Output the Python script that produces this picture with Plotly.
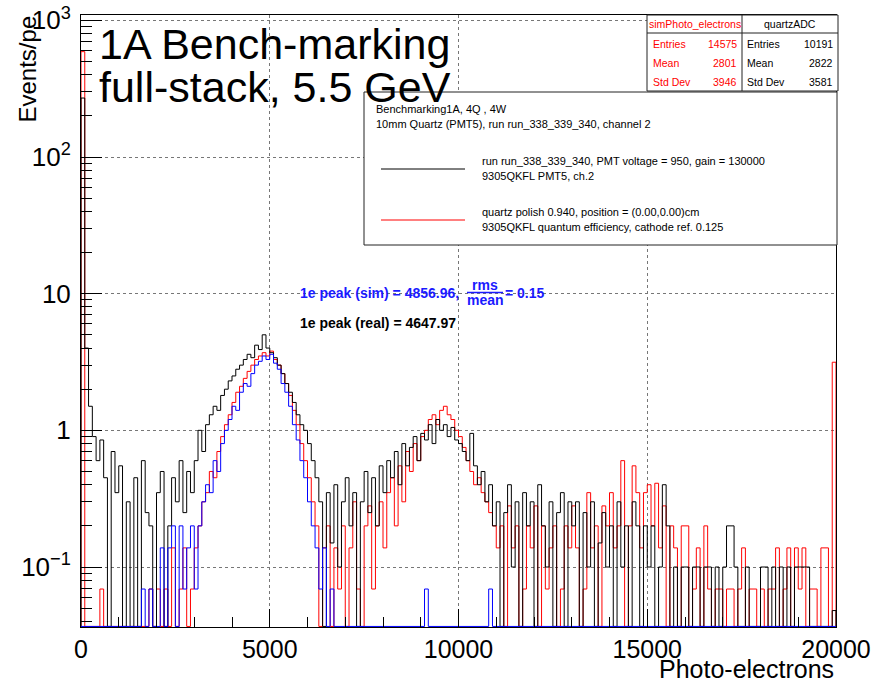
import plotly.graph_objects as go

# Histogram binning (photo-electrons)
BIN_WIDTH = 100
X_MIN, X_MAX = 0, 20000

# Measured quartzADC spectrum converted to photo-electrons (Events/pe per bin)
real_pe = [
    270, 4.0, 1.5, 0.9, 0.6, 0.85, 0.45, 0, 0.7, 0.35,
    0.55, 0, 0.3, 0, 0.45, 0, 0.6, 0.25, 0.2, 0,
    0.35, 0.5, 0, 0.2, 0.45, 0.3, 0.6, 0.25, 0.5, 0.35,
    0.6, 1.0, 0.7, 1.1, 1.3, 1.5, 1.4, 1.8, 2.0, 2.3,
    2.5, 2.8, 3.0, 3.3, 3.6, 3.4, 4.2, 3.9, 5.0, 4.0,
    3.7, 3.4, 3.0, 2.6, 2.2, 1.9, 1.6, 1.3, 1.1, 1.0,
    0.8, 0.6, 0.45, 0.3, 0, 0.35, 0.15, 0.4, 0.1, 0.3,
    0.45, 0.2, 0.35, 0, 0.3, 0.5, 0.25, 0.45, 0.2, 0.55,
    0.35, 0.6, 0.45, 0.7, 0.4, 0.8, 0.55, 0.75, 0.9, 0.6,
    0.95, 0.85, 1.1, 0.8, 1.2, 1.0, 1.1, 0.9, 1.05, 0.85,
    0.8, 0.7, 0.6, 0.95, 0.55, 0.4, 0.5, 0.3, 0.4, 0.2,
    0.3, 0, 0.25, 0.4, 0.1, 0.3, 0, 0.35, 0.2, 0.3,
    0, 0.4, 0.2, 0.1, 0.3, 0, 0.25, 0.35, 0, 0.3,
    0.2, 0.3, 0, 0.25, 0.1, 0.3, 0, 0.15, 0.25, 0.1,
    0.2, 0, 0.3, 0.1, 0.2, 0, 0.3, 0.2, 0, 0.2,
    0.1, 0.2, 0, 0.1, 0.4, 0.2, 0, 0.1, 0, 0.1,
    0.1, 0, 0.1, 0.1, 0, 0.1, 0.1, 0, 0.1, 0,
    0.1, 0.2, 0.2, 0.1, 0, 0, 0.1, 0, 0, 0,
    0.1, 0.1, 0, 0.1, 0, 0.1, 0, 0.1, 0, 0.1,
    0.1, 0.1, 0.1, 0, 0, 0, 0, 0, 0, 0.048,
]

# Simulated photo-electron spectrum (simPhoto_electrons)
sim_pe = [
    590, 0, 0, 0, 0, 0.069, 0, 0, 0, 0,
    0, 0, 0, 0, 0, 0, 0, 0, 0.069, 0,
    0.069, 0, 0.069, 0, 0.138, 0, 0.069, 0.138, 0, 0.069,
    0.138, 0.2, 0.3, 0.35, 0.5, 0.45, 0.7, 0.9, 1.1, 1.3,
    1.6, 1.9, 2.1, 2.4, 2.7, 3.0, 3.3, 3.5, 3.7, 3.5,
    3.8, 3.3, 3.0, 2.6, 2.2, 1.8, 1.4, 1.1, 0.8, 0.6,
    0.45, 0.3, 0.2, 0, 0.138, 0.2, 0, 0.138, 0.069, 0.2,
    0, 0.138, 0.3, 0.069, 0, 0.2, 0.28, 0.069, 0.2, 0.3,
    0.138, 0.35, 0.45, 0.2, 0.55, 0.3, 0.7, 0.5, 0.8, 0.6,
    0.9, 1.0, 1.2, 1.3, 1.1, 1.4, 1.5, 1.3, 1.2, 1.0,
    0.9, 0.75, 0.6, 0.5, 0.4, 0.45, 0.35, 0.3, 0.25, 0.2,
    0.138, 0.2, 0, 0.28, 0.138, 0.2, 0, 0.069, 0.2, 0.138,
    0.28, 0, 0.2, 0.069, 0.138, 0.2, 0, 0.069, 0.2, 0.138,
    0.28, 0.138, 0, 0.069, 0.35, 0.138, 0.2, 0, 0.28, 0.2,
    0.35, 0.138, 0.2, 0.6, 0, 0.2, 0.55, 0.35, 0.138, 0.35,
    0.4, 0.2, 0.41, 0.138, 0.28, 0, 0.2, 0.138, 0, 0.2,
    0.2, 0, 0.069, 0.138, 0, 0.2, 0.069, 0, 0.069, 0.069,
    0, 0.069, 0.069, 0, 0.069, 0.138, 0, 0.069, 0.069, 0,
    0.069, 0, 0.069, 0.069, 0.138, 0, 0.069, 0.138, 0, 0.138,
    0.069, 0.138, 0, 0.069, 0.069, 0, 0.138, 0.138, 0, 3.15,
]

# Simulated single-photo-electron peak component
sim_1e = [
    0, 0, 0, 0, 0, 0, 0, 0, 0, 0,
    0, 0, 0, 0, 0, 0, 0.069, 0, 0.069, 0,
    0, 0.138, 0, 0.138, 0.2, 0, 0.2, 0.069, 0.138, 0.2,
    0.069, 0.2, 0.3, 0.4, 0.35, 0.6, 0.5, 0.8, 1.0, 1.2,
    1.5, 1.4, 1.9, 2.2, 2.1, 2.6, 3.0, 3.2, 3.5, 3.3,
    3.6, 3.1, 2.8, 2.2, 1.9, 1.5, 1.1, 0.85, 0.6, 0.45,
    0.3, 0.2, 0.138, 0.069, 0.138, 0, 0.069, 0, 0, 0,
    0, 0, 0, 0, 0, 0, 0, 0, 0, 0,
    0, 0, 0, 0, 0, 0, 0, 0, 0, 0,
    0, 0.069, 0, 0, 0, 0, 0, 0, 0, 0,
    0, 0, 0, 0, 0, 0, 0, 0, 0.069, 0,
] + [0] * 89

# Axis labels / ticks
x_tickvals = [0, 5000, 10000, 15000, 20000]
x_ticktext = ["0", "5000", "10000", "15000", "20000"]
y_tickvals = [0.1, 1, 10, 100, 1000]
y_ticktext = ["10<sup>\u22121</sup>", "1", "10", "10<sup>2</sup>", "10<sup>3</sup>"]

# Stats boxes
stats_sim = [("Entries", "14575"), ("Mean", "2801"), ("Std Dev", "3946")]
stats_real = [("Entries", "10191"), ("Mean", "2822"), ("Std Dev", "3581")]

FONT = "Liberation Sans, Arial, Helvetica, sans-serif"
Y_LOG_MIN, Y_LOG_MAX = -1.439, 3.039
FLOOR = 10 ** (Y_LOG_MIN + 0.004)

# Plot-area geometry (pixels) used to place the decorations
L, R, T, B = 81, 836, 15, 627
W_FIG, H_FIG = 871, 684


def px(x):
    return (x - L) / (R - L)


def py(y):
    return (B - y) / (B - T)


edges = [X_MIN + i * BIN_WIDTH for i in range(len(real_pe) + 1)]


def step_xy(vals):
    xs, ys = [edges[0]], [FLOOR]
    for i, v in enumerate(vals):
        yv = v if v > 0 else FLOOR
        xs += [edges[i], edges[i + 1]]
        ys += [yv, yv]
    xs.append(edges[-1])
    ys.append(FLOOR)
    return xs, ys


fig = go.Figure()
for vals, color in [(sim_pe, "#ff0000"), (real_pe, "#000000"), (sim_1e, "#0000ff")]:
    xs, ys = step_xy(vals)
    fig.add_trace(go.Scatter(x=xs, y=ys, mode="lines",
                             line=dict(color=color, width=1),
                             hoverinfo="skip", showlegend=False))

shapes = []
ann = []


def text(x, y, s, size, color="black", xanchor="left", yanchor="middle", **kw):
    ann.append(dict(x=px(x), y=py(y), xref="paper", yref="paper", text=s,
                    showarrow=False, xanchor=xanchor, yanchor=yanchor,
                    font=dict(family=FONT, size=size, color=color), **kw))


def line(x0, y0, x1, y1, color="black", width=1):
    shapes.append(dict(type="line", xref="paper", yref="paper",
                       x0=px(x0), y0=py(y0), x1=px(x1), y1=py(y1),
                       line=dict(color=color, width=width), layer="above"))


def rect(x0, y0, x1, y1):
    shapes.append(dict(type="rect", xref="paper", yref="paper",
                       x0=px(x0), y0=py(y0), x1=px(x1), y1=py(y1),
                       line=dict(color="#222", width=1), fillcolor="white",
                       layer="above"))


# Stats boxes
rect(647, 15, 838, 91)
line(742, 15, 742, 91, "#222")
line(647, 33, 838, 33, "#222")
text(694.5, 24, "simPhoto_electrons", 10.5, "#ff0000", xanchor="center")
text(790, 24, "quartzADC", 10.5, "black", xanchor="center")
for i, ((k1, v1), (k2, v2)) in enumerate(zip(stats_sim, stats_real)):
    yy = 44 + 19 * i
    text(651, yy, k1, 10.5, "#ff0000")
    text(739, yy, v1, 10.5, "#ff0000", xanchor="right")
    text(745, yy, k2, 10.5)
    text(835, yy, v2, 10.5, xanchor="right")

# Legend box
rect(364, 92, 837, 245)
text(374, 109, "Benchmarking1A, 4Q , 4W", 11)
text(374, 124, "10mm Quartz (PMT5), run run_338_339_340, channel 2", 11)
line(381, 169, 465, 169, "black")
text(480, 161, "run run_338_339_340, PMT voltage = 950, gain = 130000", 11)
text(480, 176, "9305QKFL PMT5, ch.2", 11)
line(381, 220, 465, 220, "#ff0000")
text(480, 212, "quartz polish 0.940, position = (0.00,0.00)cm", 11)
text(480, 227, "9305QKFL quantum efficiency, cathode ref. 0.125", 11)

# Title block
text(97, 44, "1A Bench-marking", 43)
text(97, 87, "full-stack, 5.5 GeV", 43)

# Peak annotations
BLUE = "#1a1aff"
text(298, 293, "<b>1e peak (sim) = 4856.96,</b>", 14, BLUE)
text(485, 285, "<b>rms</b>", 14, BLUE, xanchor="center")
text(485, 300, "<b>mean</b>", 14, BLUE, xanchor="center")
line(467, 292.5, 503, 292.5, BLUE, 1.5)
text(503, 293, "<b>= 0.15</b>", 14, BLUE)
text(298, 323, "<b>1e peak (real) = 4647.97</b>", 14)

# Axis titles
text(836, 669, "Photo-electrons", 25, xanchor="right")
text(27, 14, "Events/pe", 24, xanchor="center", yanchor="top", textangle=-90)

minor_y = [k * 10 ** d for d in range(-2, 4) for k in range(2, 10)]

fig.update_layout(
    width=W_FIG, height=H_FIG,
    margin=dict(l=L, r=W_FIG - R, t=T, b=H_FIG - B, autoexpand=False),
    paper_bgcolor="white", plot_bgcolor="white",
    font=dict(family=FONT, color="black"),
    shapes=shapes, annotations=ann,
    xaxis=dict(
        range=[X_MIN, X_MAX], tickmode="array", tickvals=x_tickvals,
        ticktext=x_ticktext, ticklabeloverflow="allow", automargin=False,
        ticks="inside", ticklen=18, tickcolor="black", tickwidth=1,
        tickfont=dict(size=25, family=FONT),
        showline=True, linecolor="black", linewidth=1, mirror=True,
        showgrid=True, gridcolor="#777", griddash="dot", gridwidth=1,
        zeroline=False,
        minor=dict(dtick=1000, ticks="inside", ticklen=10, tickcolor="black",
                   showgrid=False),
    ),
    yaxis=dict(
        type="log", range=[Y_LOG_MIN, Y_LOG_MAX],
        tickmode="array", tickvals=y_tickvals, ticktext=y_ticktext,
        ticklabeloverflow="allow", automargin=False,
        ticks="inside", ticklen=21, tickcolor="black", tickwidth=1,
        tickfont=dict(size=26, family=FONT), ticklabelstandoff=4,
        showline=True, linecolor="black", linewidth=1, mirror=True,
        showgrid=True, gridcolor="#777", griddash="dot", gridwidth=1,
        zeroline=False,
        minor=dict(tickmode="array", tickvals=minor_y, ticks="inside",
                   ticklen=11, tickcolor="black", showgrid=False),
    ),
)

fig.write_html("out.html")
